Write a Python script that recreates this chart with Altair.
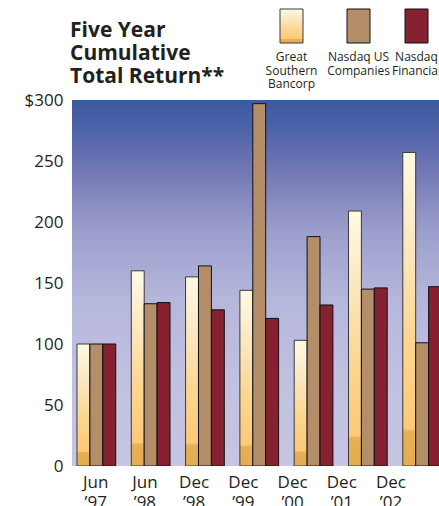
import altair as alt
import pandas as pd

# ---------------- data ----------------
dates = ["Jun\n\u201997", "Jun\n\u201998", "Dec\n\u201998", "Dec\n\u201999",
         "Dec\n\u201900", "Dec\n\u201901", "Dec\n\u201902"]
series = ["Great Southern Bancorp", "Nasdaq US Companies", "Nasdaq Financial"]
legend_lines = [["Great", "Southern", "Bancorp"], ["Nasdaq US", "Companies"], ["Nasdaq", "Financial"]]
gsb = [100, 160, 155, 144, 103, 209, 257]
nasdaq_us = [100, 133, 164, 297, 188, 145, 101]
nasdaq_fin = [100, 134, 128, 121, 132, 146, 147]
y_ticks = [0, 50, 100, 150, 200, 250, 300]
title_lines = ["Five Year", "Cumulative", "Total Return**"]

rows = []
for i, d in enumerate(dates):
    for s, vals in zip(series, [gsb, nasdaq_us, nasdaq_fin]):
        rows.append({"date": d, "series": s, "value": vals[i]})
df = pd.DataFrame(rows)

# ---------------- style ----------------
W, H = 367, 366
FONT = "Open Sans"
INK = "#231f20"
TAN = "#b48e68"
RED = "#852131"

bg_gradient = {
    "gradient": "linear", "x1": 0, "y1": 0, "x2": 0, "y2": 1,
    "stops": [
        {"offset": 0.0, "color": "#3a5a9f"},
        {"offset": 0.07, "color": "#4c61a8"},
        {"offset": 0.2, "color": "#7479b5"},
        {"offset": 0.36, "color": "#9c9fcc"},
        {"offset": 0.55, "color": "#b5b7db"},
        {"offset": 0.75, "color": "#c0c0e0"},
        {"offset": 1.0, "color": "#c6c6e3"},
    ],
}
gsb_gradient = {
    "gradient": "linear", "x1": 0, "y1": 0, "x2": 0, "y2": 1,
    "stops": [
        {"offset": 0.0, "color": "#fff9e4"},
        {"offset": 0.3, "color": "#fbe7c0"},
        {"offset": 0.6, "color": "#fcd690"},
        {"offset": 0.88, "color": "#fdc977"},
        {"offset": 0.89, "color": "#e7b055"},
        {"offset": 1.0, "color": "#e5ab50"},
    ],
}

x_bars = alt.X("date:N", sort=dates, axis=None,
               scale=alt.Scale(range=[0, 374.5], paddingInner=0.287, paddingOuter=0.092))
x_off = alt.XOffset("series:N", sort=series,
                    scale=alt.Scale(domain=series, paddingInner=0, paddingOuter=0))
y_enc = alt.Y("value:Q",
              scale=alt.Scale(domain=[0, 300], nice=False, zero=True),
              axis=alt.Axis(values=y_ticks,
                            labelExpr="datum.value == 300 ? '$300' : datum.label",
                            ticks=False, domain=False, grid=False,
                            labelFont=FONT, labelFontSize=17, labelColor=INK,
                            labelPadding=9, labelBaseline="middle", title=None))

base = alt.Chart(df)

background = alt.Chart(alt.Data(values=[{}])).mark_rect(fill=bg_gradient).encode(
    x=alt.value(0), x2=alt.value(W), y=alt.value(0), y2=alt.value(H)
)

gsb_bars = base.transform_filter(alt.datum.series == series[0]).mark_bar(
    fill=gsb_gradient, stroke="#3a3a3a", strokeWidth=1, clip=True
).encode(x=x_bars, xOffset=x_off, y=y_enc)

other_bars = base.transform_filter(alt.datum.series != series[0]).mark_bar(
    stroke="#111111", strokeWidth=1, clip=True
).encode(
    x=x_bars, xOffset=x_off, y=y_enc,
    fill=alt.Fill("series:N", scale=alt.Scale(domain=series[1:], range=[TAN, RED]), legend=None),
)

xlabels = alt.Chart(pd.DataFrame({"date": dates})).mark_text(
    font=FONT, fontSize=17, color=INK, align="center", baseline="alphabetic",
    lineBreak="\n", lineHeight=20
).encode(
    x=alt.X("date:N", sort=dates, axis=None,
            scale=alt.Scale(type="point", range=[23.7, 319], padding=0)),
    y=alt.value(H + 22),
    text="date:N",
)

title = alt.Chart(alt.Data(values=[{}])).mark_text(
    font=FONT, fontSize=21, fontWeight="bold", color=INK, align="left",
    baseline="alphabetic", lineHeight=23
).encode(x=alt.value(-2), y=alt.value(-63), text=alt.value(title_lines))

legend_fills = [gsb_gradient, TAN, RED]
legend_strokes = ["#3a3a3a", "#111111", "#111111"]
legend_x = [208, 275, 333]
legend_layers = []
for lx, fill, stroke, lines in zip(legend_x, legend_fills, legend_strokes, legend_lines):
    legend_layers.append(
        alt.Chart(alt.Data(values=[{}])).mark_rect(fill=fill, stroke=stroke, strokeWidth=1).encode(
            x=alt.value(lx), x2=alt.value(lx + 23), y=alt.value(-91), y2=alt.value(-57)
        )
    )
    legend_layers.append(
        alt.Chart(alt.Data(values=[{}])).mark_text(
            font=FONT, fontSize=12, color=INK, align="center", baseline="alphabetic",
            lineHeight=13.7
        ).encode(x=alt.value(lx + 11.5), y=alt.value(-39), text=alt.value(lines))
    )

chart = alt.layer(background, gsb_bars, other_bars, xlabels, title, *legend_layers).resolve_scale(
    x="independent"
).properties(
    width=W, height=H,
    autosize="none",
    padding={"left": 72, "top": 100, "right": 0, "bottom": 40},
).configure_view(stroke=None)

chart.save("out.html", embed_options={"renderer": "svg", "actions": False})
